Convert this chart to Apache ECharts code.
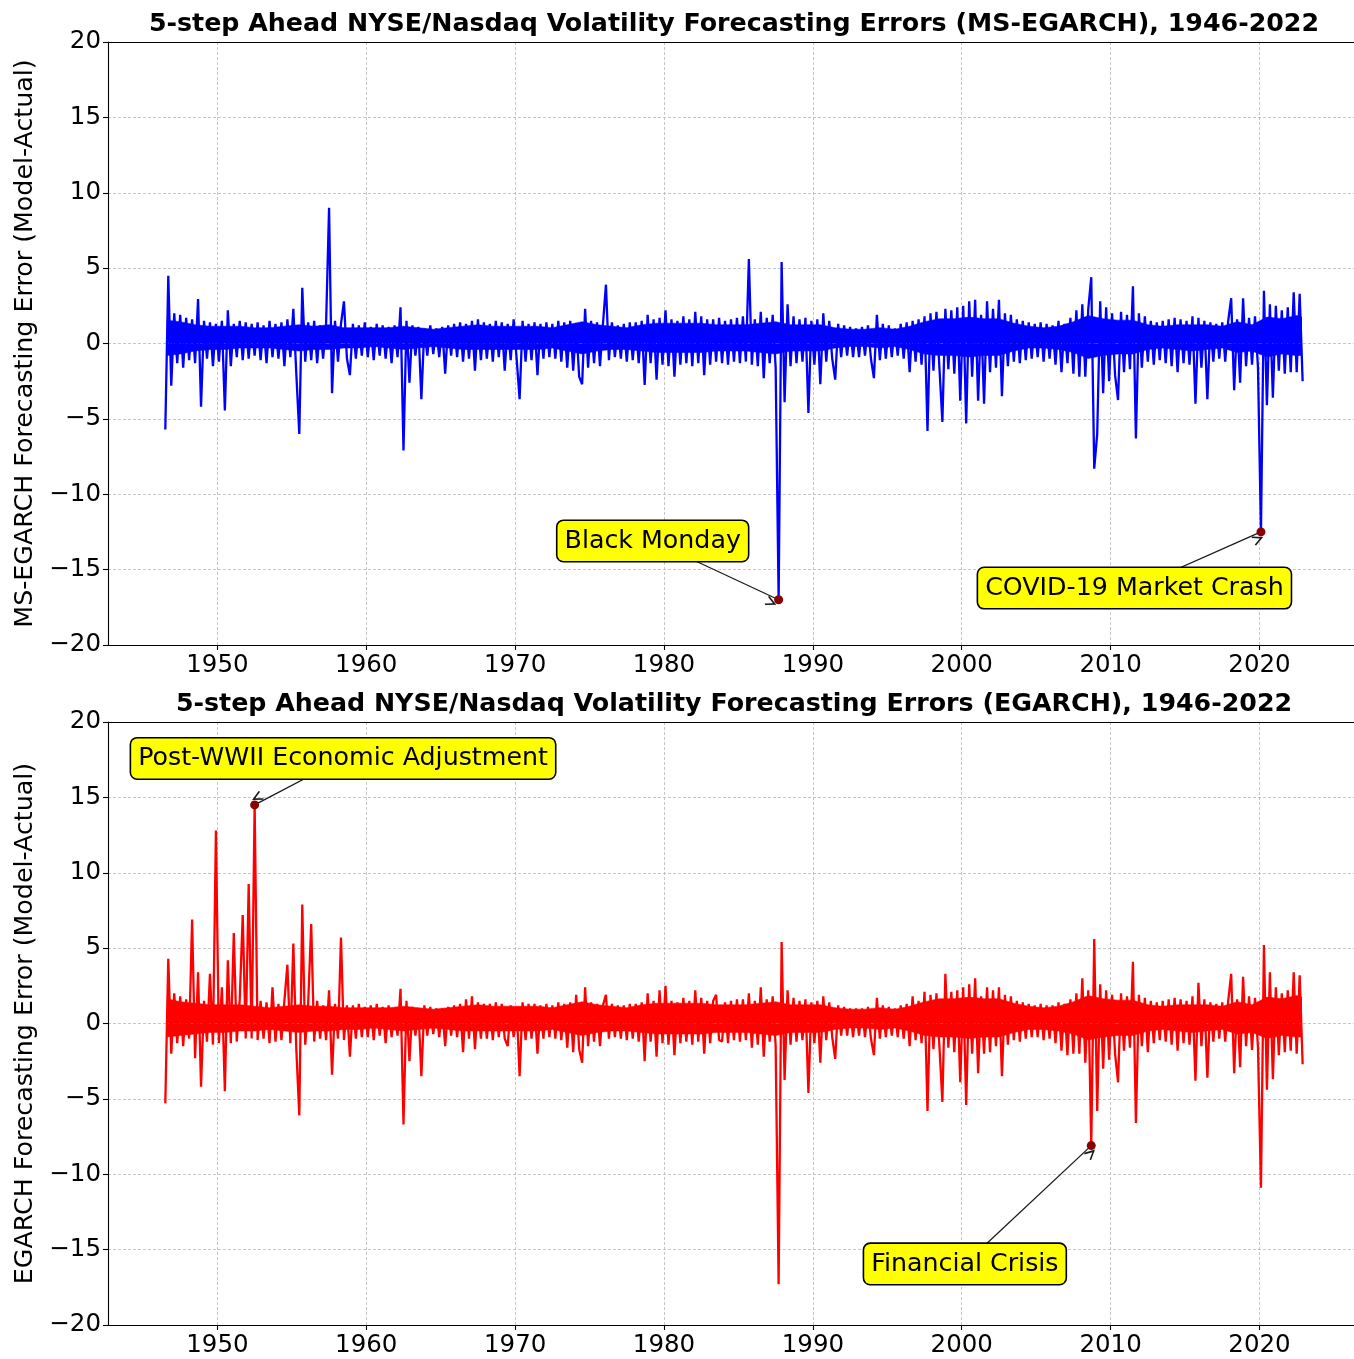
<!DOCTYPE html>
<html><head><meta charset="utf-8">
<script src="https://cdn.jsdelivr.net/npm/echarts@6/dist/echarts.min.js"></script>
<style>html,body{margin:0;padding:0;background:#fff}#c{width:1354px;height:1359px}</style>
</head><body><div id="c"></div>
<script>
// ---- DATA ----
const t = [
1946.5,1946.7,1946.9,
1947.1,1947.3,1947.5,1947.7,1947.9,1948.1,1948.3,1948.5,1948.7,1948.9,
1949.1,1949.3,1949.5,1949.7,1949.9,1950.1,1950.3,1950.5,1950.7,1950.9,
1951.1,1951.3,1951.5,1951.7,1951.9,1952.1,1952.3,1952.5,1952.7,1952.9,
1953.1,1953.3,1953.5,1953.7,1953.9,1954.1,1954.3,1954.5,1954.7,1954.9,
1955.1,1955.3,1955.5,1955.7,1955.9,1956.1,1956.3,1956.5,1956.7,1956.9,
1957.1,1957.3,1957.5,1957.7,1957.9,1958.1,1958.3,1958.5,1958.7,1958.9,
1959.1,1959.3,1959.5,1959.7,1959.9,1960.1,1960.3,1960.5,1960.7,1960.9,
1961.1,1961.3,1961.5,1961.7,1961.9,1962.1,1962.3,1962.5,1962.7,1962.9,
1963.1,1963.3,1963.5,1963.7,1963.9,1964.1,1964.3,1964.5,1964.7,1964.9,
1965.1,1965.3,1965.5,1965.7,1965.9,1966.1,1966.3,1966.5,1966.7,1966.9,
1967.1,1967.3,1967.5,1967.7,1967.9,1968.1,1968.3,1968.5,1968.7,1968.9,
1969.1,1969.3,1969.5,1969.7,1969.9,1970.1,1970.3,1970.5,1970.7,1970.9,
1971.1,1971.3,1971.5,1971.7,1971.9,1972.1,1972.3,1972.5,1972.7,1972.9,
1973.1,1973.3,1973.5,1973.7,1973.9,1974.1,1974.3,1974.5,1974.7,1974.9,
1975.1,1975.3,1975.5,1975.7,1975.9,1976.1,1976.3,1976.5,1976.7,1976.9,
1977.1,1977.3,1977.5,1977.7,1977.9,1978.1,1978.3,1978.5,1978.7,1978.9,
1979.1,1979.3,1979.5,1979.7,1979.9,1980.1,1980.3,1980.5,1980.7,1980.9,
1981.1,1981.3,1981.5,1981.7,1981.9,1982.1,1982.3,1982.5,1982.7,1982.9,
1983.1,1983.3,1983.5,1983.7,1983.9,1984.1,1984.3,1984.5,1984.7,1984.9,
1985.1,1985.3,1985.5,1985.7,1985.9,1986.1,1986.3,1986.5,1986.7,1986.9,
1987.1,1987.3,1987.5,1987.7,1987.9,1988.1,1988.3,1988.5,1988.7,1988.9,
1989.1,1989.3,1989.5,1989.7,1989.9,1990.1,1990.3,1990.5,1990.7,1990.9,
1991.1,1991.3,1991.5,1991.7,1991.9,1992.1,1992.3,1992.5,1992.7,1992.9,
1993.1,1993.3,1993.5,1993.7,1993.9,1994.1,1994.3,1994.5,1994.7,1994.9,
1995.1,1995.3,1995.5,1995.7,1995.9,1996.1,1996.3,1996.5,1996.7,1996.9,
1997.1,1997.3,1997.5,1997.7,1997.9,1998.1,1998.3,1998.5,1998.7,1998.9,
1999.1,1999.3,1999.5,1999.7,1999.9,2000.1,2000.3,2000.5,2000.7,2000.9,
2001.1,2001.3,2001.5,2001.7,2001.9,2002.1,2002.3,2002.5,2002.7,2002.9,
2003.1,2003.3,2003.5,2003.7,2003.9,2004.1,2004.3,2004.5,2004.7,2004.9,
2005.1,2005.3,2005.5,2005.7,2005.9,2006.1,2006.3,2006.5,2006.7,2006.9,
2007.1,2007.3,2007.5,2007.7,2007.9,2008.1,2008.3,2008.5,2008.7,2008.9,
2009.1,2009.3,2009.5,2009.7,2009.9,2010.1,2010.3,2010.5,2010.7,2010.9,
2011.1,2011.3,2011.5,2011.7,2011.9,2012.1,2012.3,2012.5,2012.7,2012.9,
2013.1,2013.3,2013.5,2013.7,2013.9,2014.1,2014.3,2014.5,2014.7,2014.9,
2015.1,2015.3,2015.5,2015.7,2015.9,2016.1,2016.3,2016.5,2016.7,2016.9,
2017.1,2017.3,2017.5,2017.7,2017.9,2018.1,2018.3,2018.5,2018.7,2018.9,
2019.1,2019.3,2019.5,2019.7,2019.9,2020.1,2020.3,2020.5,2020.7,2020.9,
2021.1,2021.3,2021.5,2021.7,2021.9,2022.1,2022.3,2022.5,2022.7,2022.9
];

// MS-EGARCH forecasting errors (Model-Actual)
const msErr = [
/*1946*/ -5.7,4.5,-2.8,
/*1947*/ 2.0,-1.3,1.9,-1.6,1.7,
/*1948*/ -1.1,1.6,-1.3,2.95,-4.2,
/*1949*/ 1.5,-1.0,1.4,-1.5,1.3,
/*1950*/ -1.2,1.5,-4.45,2.2,-1.5,
/*1951*/ 1.3,-0.9,1.5,-1.1,1.4,
/*1952*/ -1.0,1.3,-0.8,1.4,-1.1,
/*1953*/ 1.2,-1.3,1.5,-0.9,1.3,
/*1954*/ -1.0,1.4,-1.5,1.6,-0.9,
/*1955*/ 2.3,-2.0,-6.0,3.7,-1.2,
/*1956*/ 1.4,-1.1,1.5,-1.3,1.2,
/*1957*/ -1.0,1.3,9.0,-3.3,1.5,
/*1958*/ -1.2,1.3,2.8,-1.0,-2.1,
/*1959*/ 1.3,-1.0,1.2,-0.8,1.4,
/*1960*/ -0.9,1.1,-1.1,1.3,-0.8,
/*1961*/ 1.2,-1.0,1.1,-1.3,1.2,
/*1962*/ -0.9,2.4,-7.1,1.5,-2.6,
/*1963*/ 1.2,-0.8,1.1,-3.7,1.0,
/*1964*/ -0.8,1.2,-0.7,1.0,-0.9,
/*1965*/ 1.1,-2.0,1.2,-0.8,1.3,
/*1966*/ -0.9,1.4,-1.2,1.3,-1.0,
/*1967*/ 1.5,-1.8,1.6,-1.1,1.4,
/*1968*/ -1.0,1.3,-1.2,1.5,-0.9,
/*1969*/ 1.4,-1.8,1.3,-1.1,1.6,
/*1970*/ -1.0,-3.7,1.5,-1.2,1.3,
/*1971*/ -1.1,1.4,-2.1,1.3,-1.0,
/*1972*/ 1.4,-0.9,1.3,-1.0,1.5,
/*1973*/ -1.2,1.4,-1.6,1.5,-1.8,
/*1974*/ 1.3,-2.2,-2.7,2.3,-1.6,
/*1975*/ 1.5,-1.3,1.4,-1.5,1.3,
/*1976*/ 3.9,-1.1,1.4,-0.9,1.2,
/*1977*/ -1.0,1.3,-1.2,1.4,-1.1,
/*1978*/ 1.4,-1.3,1.5,-2.75,1.9,
/*1979*/ -1.3,1.6,-2.4,1.7,-1.4,
/*1980*/ 2.2,-1.5,1.6,-2.2,1.5,
/*1981*/ -1.4,1.8,-1.3,1.6,-1.5,
/*1982*/ 2.1,-1.3,1.8,-2.1,1.6,
/*1983*/ -1.4,1.6,-1.2,1.7,-1.3,
/*1984*/ 1.5,-1.4,1.6,-1.2,1.7,
/*1985*/ -1.3,1.8,-1.2,5.6,-1.4,
/*1986*/ 1.6,-1.5,2.1,-2.3,1.7,
/*1987*/ -1.3,1.9,-1.6,-17.0,5.4,
/*1988*/ -3.9,2.6,-1.5,1.8,-1.3,
/*1989*/ 1.6,-1.2,1.7,-4.6,1.5,
/*1990*/ -1.4,1.6,-2.7,2.0,-1.2,
/*1991*/ 1.5,-1.0,-2.4,1.3,-0.9,
/*1992*/ 1.2,-0.8,1.1,-0.9,1.0,
/*1993*/ -0.9,1.1,-0.8,1.2,-1.0,
/*1994*/ -2.3,1.9,-1.1,1.3,-1.0,
/*1995*/ 1.2,-0.9,1.0,-0.8,1.3,
/*1996*/ -1.0,1.4,-1.9,1.5,-1.2,
/*1997*/ 1.6,-1.4,1.8,-5.8,2.0,
/*1998*/ -1.8,2.1,-1.6,-5.2,2.3,
/*1999*/ -1.7,2.2,-2.0,2.4,-3.8,
/*2000*/ 2.5,-5.3,2.8,-2.2,2.9,
/*2001*/ -3.8,1.9,-4.0,2.8,-1.9,
/*2002*/ 2.3,-1.6,2.9,-3.5,2.0,
/*2003*/ -1.5,1.9,-1.2,1.6,-1.3,
/*2004*/ 1.5,-1.1,1.4,-1.0,1.3,
/*2005*/ -0.9,1.4,-1.2,1.3,-1.0,
/*2006*/ 1.2,-1.4,1.5,-1.9,1.3,
/*2007*/ -1.3,1.7,-2.0,2.2,-2.2,
/*2008*/ 2.6,-2.2,2.3,4.4,-8.3,
/*2009*/ -6.0,2.8,-3.3,2.4,-2.5,
/*2010*/ 2.0,-2.1,-3.75,2.1,-1.9,
/*2011*/ 1.9,-1.7,3.8,-6.3,2.0,
/*2012*/ -1.6,1.8,-1.2,1.5,-1.4,
/*2013*/ 1.4,-1.1,1.5,-1.3,1.6,
/*2014*/ -1.5,1.7,-1.9,1.6,-1.3,
/*2015*/ 1.5,-1.4,1.8,-4.0,1.7,
/*2016*/ -1.6,1.5,-3.7,1.4,-1.2,
/*2017*/ 1.3,-1.0,1.4,-1.2,1.5,
/*2018*/ 3.0,-3.1,1.6,-2.6,3.0,
/*2019*/ -1.5,1.7,-1.4,1.8,-1.6,
/*2020*/ -12.5,3.5,-4.1,2.6,-3.6,
/*2021*/ 2.5,-1.8,2.2,-2.0,2.4,
/*2022*/ -1.9,3.4,-1.9,3.3,-2.5
];

// EGARCH forecasting errors (Model-Actual)
const egErr = [
/*1946*/ -5.3,4.3,-2.0,
/*1947*/ 2.0,-1.3,1.8,-1.5,1.6,
/*1948*/ -1.0,6.9,-2.3,3.4,-4.2,
/*1949*/ 1.5,-1.2,3.3,-1.4,12.8,
/*1950*/ -1.3,2.4,-4.5,4.2,-1.3,
/*1951*/ 6.0,-1.2,1.6,7.2,-1.0,
/*1952*/ 9.25,-1.0,14.5,-1.1,1.5,
/*1953*/ -1.0,1.4,-1.3,2.4,-1.2,
/*1954*/ 1.3,-1.1,1.5,3.9,-1.3,
/*1955*/ 5.3,-1.7,-6.1,7.9,-1.4,
/*1956*/ 1.4,6.6,-1.2,1.5,-1.0,
/*1957*/ 1.2,-1.1,2.2,-3.4,1.3,
/*1958*/ -1.0,5.7,-1.1,1.2,-2.2,
/*1959*/ 1.2,-1.0,1.3,-0.9,1.1,
/*1960*/ -0.9,1.2,-1.1,1.3,-0.8,
/*1961*/ 1.1,-1.3,1.2,-0.9,1.0,
/*1962*/ -0.8,2.3,-6.7,1.5,-2.5,
/*1963*/ 1.1,-0.8,1.0,-3.5,1.2,
/*1964*/ -0.8,1.1,-0.7,1.0,-0.9,
/*1965*/ 1.0,-1.5,1.1,-0.8,1.2,
/*1966*/ -0.9,1.3,-1.9,1.6,-1.0,
/*1967*/ 1.8,-1.7,1.4,-1.0,1.3,
/*1968*/ -1.0,1.3,-1.1,1.4,-0.9,
/*1969*/ 1.3,-1.0,-1.5,1.2,-0.9,
/*1970*/ 1.1,-3.5,1.4,-1.1,1.3,
/*1971*/ -1.0,1.3,-2.0,1.2,-1.0,
/*1972*/ 1.3,-0.9,1.2,-1.0,1.4,
/*1973*/ -1.1,1.3,-1.6,1.4,-1.9,
/*1974*/ 1.9,-1.7,-2.6,2.4,-1.5,
/*1975*/ 1.4,-1.2,1.3,-1.5,1.2,
/*1976*/ 1.9,-1.0,1.3,-0.9,1.2,
/*1977*/ -1.0,1.2,-1.1,1.3,-1.0,
/*1978*/ 1.3,-1.2,1.4,-2.5,2.0,
/*1979*/ -1.2,1.5,-2.2,2.2,-1.3,
/*1980*/ 2.5,-1.4,1.5,-2.1,1.4,
/*1981*/ -1.3,1.7,-1.2,1.5,-1.4,
/*1982*/ 2.2,-1.2,1.7,-2.0,1.5,
/*1983*/ -1.3,1.5,1.9,-1.1,-1.2,
/*1984*/ 1.4,-1.3,1.5,-1.1,1.6,
/*1985*/ -1.2,1.6,-1.1,2.0,-1.6,
/*1986*/ 1.5,-1.4,2.4,-2.2,1.6,
/*1987*/ -1.2,1.8,-1.5,-17.3,5.4,
/*1988*/ -3.75,2.2,-1.4,1.7,-1.2,
/*1989*/ 1.5,-1.1,1.6,-4.6,1.4,
/*1990*/ -1.3,1.5,-2.6,1.8,-1.1,
/*1991*/ 1.4,-0.9,-2.35,1.2,-0.8,
/*1992*/ 1.1,-0.8,1.0,-0.9,1.0,
/*1993*/ -0.8,1.0,-0.9,1.1,-1.0,
/*1994*/ -2.1,1.7,-1.0,1.2,-0.9,
/*1995*/ 1.1,-0.8,1.0,-0.9,1.2,
/*1996*/ -1.0,1.3,-1.5,1.8,-1.1,
/*1997*/ 1.5,-1.3,2.1,-5.8,1.9,
/*1998*/ -1.7,2.0,-1.5,-5.2,3.3,
/*1999*/ -1.6,2.1,-1.9,2.2,-3.9,
/*2000*/ 2.4,-5.4,2.6,-2.0,3.0,
/*2001*/ -3.3,1.8,-2.0,2.4,-1.9,
/*2002*/ 2.2,-1.5,2.4,-3.5,1.9,
/*2003*/ -1.4,1.8,-1.1,1.5,-1.2,
/*2004*/ 1.4,-1.0,1.3,-0.9,1.2,
/*2005*/ -0.9,1.3,-1.1,1.2,-1.0,
/*2006*/ 1.2,-1.3,1.4,-1.8,1.3,
/*2007*/ -2.1,1.6,-2.0,2.0,-2.0,
/*2008*/ 3.0,-2.6,2.2,-8.1,5.6,
/*2009*/ -5.8,2.6,-3.0,2.2,-2.4,
/*2010*/ 1.9,-2.0,-3.9,2.0,-1.8,
/*2011*/ 1.8,-1.6,4.1,-6.6,1.9,
/*2012*/ -1.5,1.7,-1.9,1.5,-1.3,
/*2013*/ 1.4,-1.1,1.5,-1.2,1.6,
/*2014*/ -1.4,1.7,-1.8,1.6,-1.3,
/*2015*/ 1.5,-1.4,1.8,-3.8,2.7,
/*2016*/ -1.5,1.6,-3.6,1.4,-1.2,
/*2017*/ 1.3,-1.0,1.4,-1.2,1.5,
/*2018*/ 3.3,-3.3,1.6,-2.9,3.1,
/*2019*/ -1.5,1.8,-1.75,1.7,-1.6,
/*2020*/ -10.9,5.2,-4.4,3.4,-3.7,
/*2021*/ 2.4,-2.1,2.0,-1.9,2.2,
/*2022*/ -1.8,3.4,-2.0,3.2,-2.7
];

// Dense core of the daily errors (where the line fills solid), per year
const coreYears = [
1946.6,1947.5,1948.5,1949.5,1950.5,1951.5,1952.5,1953.5,1954.5,1955.5,1956.5,
1957.5,1958.5,1959.5,1960.5,1961.5,1962.5,1963.5,1964.5,1965.5,1966.5,
1967.5,1968.5,1969.5,1970.5,1971.5,1972.5,1973.5,1974.5,1975.5,1976.5,
1977.5,1978.5,1979.5,1980.5,1981.5,1982.5,1983.5,1984.5,1985.5,1986.5,
1987.5,1988.5,1989.5,1990.5,1991.5,1992.5,1993.5,1994.5,1995.5,1996.5,
1997.5,1998.5,1999.5,2000.5,2001.5,2002.5,2003.5,2004.5,2005.5,2006.5,
2007.5,2008.5,2009.5,2010.5,2011.5,2012.5,2013.5,2014.5,2015.5,2016.5,
2017.5,2018.5,2019.5,2020.5,2021.5,2022.5,2022.85
];
const msCoreHi = [
1.55,1.45,1.25,1.15,1.15,1.15,1.05,1.05,1.15,1.25,1.15,
1.25,1.05,1.05,1.05,1.05,1.15,1.05,0.95,1.05,1.15,
1.25,1.15,1.15,1.15,1.15,1.05,1.25,1.45,1.25,1.15,
1.05,1.25,1.35,1.35,1.35,1.35,1.25,1.25,1.25,1.35,
1.45,1.25,1.25,1.25,1.05,0.95,0.95,1.05,0.95,1.15,
1.45,1.65,1.65,1.75,1.65,1.65,1.35,1.15,1.05,1.15,
1.45,1.85,1.65,1.55,1.55,1.25,1.15,1.25,1.25,1.25,
1.15,1.45,1.25,1.75,1.65,1.85,1.75
];
const msCoreLo = [
-0.8,-0.7,-0.5,-0.4,-0.4,-0.3,-0.3,-0.3,-0.4,-0.5,-0.4,
-0.4,-0.3,-0.3,-0.2,-0.3,-0.4,-0.3,-0.2,-0.3,-0.4,
-0.4,-0.4,-0.4,-0.4,-0.4,-0.3,-0.5,-0.7,-0.5,-0.4,
-0.4,-0.5,-0.6,-0.6,-0.6,-0.6,-0.5,-0.5,-0.5,-0.6,
-0.7,-0.5,-0.5,-0.5,-0.3,-0.2,-0.2,-0.3,-0.2,-0.4,
-0.7,-0.8,-0.8,-0.9,-0.8,-0.8,-0.5,-0.3,-0.3,-0.4,
-0.6,-1.0,-0.8,-0.7,-0.7,-0.4,-0.3,-0.4,-0.5,-0.4,
-0.3,-0.6,-0.5,-0.9,-0.7,-0.8,-0.8
];
const egCoreHi = [
1.65,1.45,1.35,1.25,1.25,1.25,1.15,1.05,1.15,1.25,1.15,
1.15,1.05,1.05,1.05,1.05,1.15,1.05,0.95,1.05,1.15,
1.25,1.15,1.15,1.15,1.15,1.05,1.25,1.45,1.25,1.15,
1.05,1.25,1.35,1.35,1.35,1.35,1.25,1.25,1.25,1.35,
1.45,1.25,1.25,1.25,1.05,0.95,0.95,1.05,0.95,1.15,
1.45,1.65,1.65,1.75,1.65,1.65,1.35,1.15,1.05,1.15,
1.45,1.85,1.65,1.55,1.55,1.25,1.15,1.25,1.25,1.25,
1.15,1.45,1.25,1.75,1.65,1.85,1.75
];
const egCoreLo = [
-0.9,-0.8,-0.7,-0.6,-0.6,-0.5,-0.5,-0.4,-0.5,-0.6,-0.5,
-0.5,-0.4,-0.4,-0.3,-0.4,-0.5,-0.4,-0.3,-0.4,-0.5,
-0.5,-0.5,-0.5,-0.5,-0.5,-0.4,-0.6,-0.8,-0.6,-0.5,
-0.5,-0.6,-0.7,-0.7,-0.7,-0.7,-0.6,-0.6,-0.6,-0.7,
-0.8,-0.6,-0.6,-0.6,-0.4,-0.3,-0.3,-0.4,-0.3,-0.5,
-0.8,-0.9,-0.9,-1.0,-0.9,-0.9,-0.6,-0.4,-0.4,-0.5,
-0.7,-1.1,-0.9,-0.8,-0.8,-0.5,-0.4,-0.5,-0.6,-0.5,
-0.4,-0.7,-0.6,-1.0,-0.8,-0.9,-0.9
];

const xTickYears = [1950, 1960, 1970, 1980, 1990, 2000, 2010, 2020];

const titles = [
  '5-step Ahead NYSE/Nasdaq Volatility Forecasting Errors (MS-EGARCH), 1946-2022',
  '5-step Ahead NYSE/Nasdaq Volatility Forecasting Errors (EGARCH), 1946-2022'
];
const yNames = [
  'MS-EGARCH Forecasting Error (Model-Actual)',
  'EGARCH Forecasting Error (Model-Actual)'
];
const topNoteText = ['Black Monday', 'COVID-19 Market Crash'];
const topNoteYear = [1987.7, 2020.1];
const bottomNoteText = ['Post-WWII Economic Adjustment', 'Financial Crisis'];
const bottomNoteYear = [1952.5, 2008.7];

// ---- LAYOUT / STYLE ----
const FONT = 'DejaVu Sans';
const FS_TICK = 24.5;
const FS_TEXT = 25.3;
const X_MIN = 1942.65, X_MAX = 2026.35;
const topBoxes = [[1979.24, -13.1], [2011.6, -16.22]];
const bottomBoxes = [[1958.44, 17.58], [2000.21, -15.95]];
const chevron = 'path://M5,0 L10,9 L8.7,9.9 L5,3.3 L1.3,9.9 L0,9 Z';

function pairs(xs, vals) { return xs.map((x, i) => [x, vals[i]]); }
function minusFmt(v) { return v < 0 ? '\u2212' + Math.abs(v) : String(v); }

function annotations(vals, texts, years, boxes) {
  const dots = years.map(y => ({
    coord: [y, vals[t.indexOf(y)]], symbol: 'circle', symbolSize: 9,
    itemStyle: { color: '#8b0000' }, label: { show: false }
  }));
  const labels = texts.map((s, i) => ({
    coord: boxes[i], symbol: 'rect', symbolSize: 1,
    itemStyle: { color: 'rgba(0,0,0,0)' },
    label: {
      show: true, position: 'inside', formatter: s,
      fontFamily: FONT, fontSize: FS_TEXT, color: '#000', lineHeight: 28,
      backgroundColor: '#ffff00', borderColor: '#000', borderWidth: 1.6,
      borderRadius: 6, padding: [6, 7, 6, 7]
    }
  }));
  const lines = years.map((y, i) => [
    { coord: boxes[i] },
    { coord: [y, vals[t.indexOf(y)]] }
  ]);
  return {
    markPoint: { z: 10, silent: true, animation: false, data: dots.concat(labels) },
    markLine: {
      z: 4, silent: true, animation: false,
      symbol: ['none', chevron], symbolSize: [10, 11], symbolOffset: [0, 5.5],
      lineStyle: { color: '#1a1a1a', width: 1.3, type: 'solid' },
      label: { show: false },
      data: lines
    }
  };
}

// core band: two areas filled from the zero line (one above, one below)
function coreSeries(gi, lo, hi, color) {
  return [lo, hi].map(vals => ({
    type: 'line', xAxisIndex: gi, yAxisIndex: gi, data: pairs(coreYears, vals),
    showSymbol: false, symbol: 'none', silent: true, z: 1,
    lineStyle: { width: 0.5, color: color },
    areaStyle: { color: color, opacity: 1, origin: 0 }
  }));
}

const grids = [
  { show: false, left: 108, top: 42, right: 0, height: 603 },
  { show: false, left: 108, top: 722, right: 0, height: 603 }
];
const axisLineStyle = { color: '#000', width: 1.1 };
const gridLine = { show: true, lineStyle: { color: '#b8b8b8', width: 0.8, type: [3, 2] } };

function xAxis(gi) {
  return {
    type: 'value', gridIndex: gi, min: X_MIN, max: X_MAX, position: 'bottom',
    axisLine: { show: true, onZero: false, lineStyle: axisLineStyle },
    axisTick: { show: true, customValues: xTickYears, length: 5, lineStyle: axisLineStyle },
    axisLabel: { show: true, customValues: xTickYears, fontFamily: FONT, fontSize: FS_TICK, color: '#000', margin: 8,
      formatter: v => String(Math.round(v)) },
    splitLine: gridLine
  };
}
function topSpine(gi) {
  return {
    type: 'value', gridIndex: gi, min: X_MIN, max: X_MAX, position: 'top',
    axisLine: { show: true, onZero: false, lineStyle: axisLineStyle },
    axisTick: { show: false }, axisLabel: { show: false }, splitLine: { show: false }
  };
}
function yAxis(gi) {
  return {
    type: 'value', gridIndex: gi, min: -20, max: 20, interval: 5,
    name: yNames[gi], nameLocation: 'middle', nameGap: 70, nameRotate: 90,
    nameTextStyle: { fontFamily: FONT, fontSize: FS_TEXT, color: '#000' },
    axisLine: { show: true, onZero: false, lineStyle: axisLineStyle },
    axisTick: { show: true, length: 5, lineStyle: axisLineStyle },
    axisLabel: { fontFamily: FONT, fontSize: FS_TICK, color: '#000', margin: 7, formatter: minusFmt },
    splitLine: gridLine
  };
}

const chart = echarts.init(document.getElementById('c'), null, { renderer: 'canvas' });
chart.setOption({
  animation: false,
  backgroundColor: '#fff',
  title: titles.map((s, i) => ({
    text: s, left: 729, top: i === 0 ? 7 : 687, textAlign: 'center',
    textStyle: { fontFamily: FONT, fontWeight: 'bold', fontSize: FS_TEXT, color: '#000' }
  })),
  grid: grids,
  xAxis: [xAxis(0), xAxis(1), topSpine(0), topSpine(1)],
  yAxis: [yAxis(0), yAxis(1)],
  series: [
    ...coreSeries(0, msCoreLo, msCoreHi, '#0000ff'),
    ...coreSeries(1, egCoreLo, egCoreHi, '#ff0000'),
    Object.assign({
      type: 'line', xAxisIndex: 0, yAxisIndex: 0, data: pairs(t, msErr),
      showSymbol: false, symbol: 'none', z: 2,
      lineStyle: { color: '#0000ff', width: 2.3 }, itemStyle: { color: '#0000ff' }
    }, annotations(msErr, topNoteText, topNoteYear, topBoxes)),
    Object.assign({
      type: 'line', xAxisIndex: 1, yAxisIndex: 1, data: pairs(t, egErr),
      showSymbol: false, symbol: 'none', z: 2,
      lineStyle: { color: '#ff0000', width: 2.3 }, itemStyle: { color: '#ff0000' }
    }, annotations(egErr, bottomNoteText, bottomNoteYear, bottomBoxes))
  ]
});
</script>
</body></html>
